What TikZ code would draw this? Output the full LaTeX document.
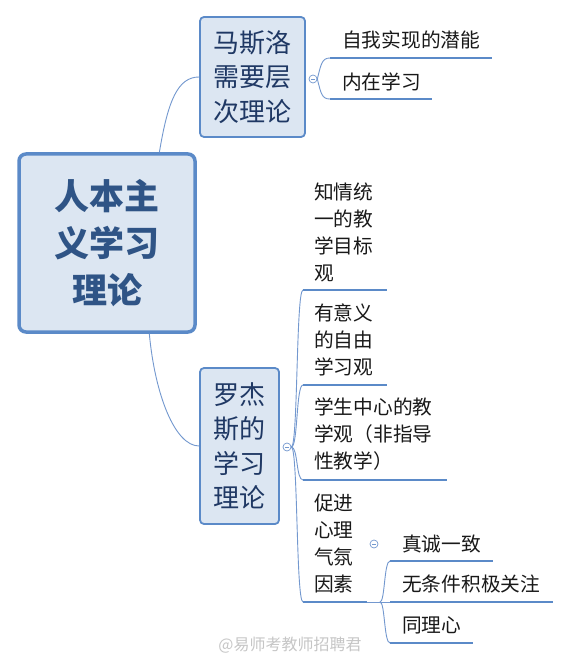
\documentclass[tikz,border=0pt]{standalone}
\usepackage{fontspec}
\newfontfamily\cjk{Noto Sans CJK SC}
\usetikzlibrary{positioning,calc}
\definecolor{mapblue}{HTML}{5B8AC8}
\definecolor{mapfill}{HTML}{DCE6F2}
\definecolor{mapline}{HTML}{7398CF}
\definecolor{maptext}{HTML}{1F3864}
\definecolor{roottext}{HTML}{2F5486}
\tikzset{
  rootbox/.style={draw=mapblue, line width=3.5pt, rounded corners=7pt, fill=mapfill, minimum width=176pt, minimum height=178pt, inner sep=0pt, align=center, text=roottext, font=\cjk\bfseries\fontsize{35}{47}\selectfont},
  topicbox/.style={draw=mapblue, line width=1.8pt, rounded corners=4pt, fill=mapfill, inner sep=0pt, align=center, text=maptext, font=\cjk\fontsize{26}{34.5}\selectfont},
  leaftext/.style={anchor=west, inner sep=0pt, align=left, text=black!90, font=\cjk\fontsize{19.7}{27}\selectfont},
  underline/.style={draw=mapblue, line width=2.6pt},
  branch/.style={draw=mapline, line width=0.9pt},
  collapse/.style={circle, draw=mapline, fill=white, line width=0.7pt, minimum size=8pt, inner sep=0pt,
    path picture={\draw[mapline, line width=0.6pt] ([xshift=-2pt]path picture bounding box.center) -- ([xshift=2pt]path picture bounding box.center);}}
}

\begin{document}
\begin{tikzpicture}[x=1pt, y=-1pt]
  \useasboundingbox[fill=white] (0,0) rectangle (571,660);
  % topics
  \node[rootbox] (root) at (107,243) {人本主\\义学习\\理论};
  \node[topicbox, minimum width=105pt, minimum height=120pt] (maslow) at (252.5,77) {马斯洛\\需要层\\次理论};
  \node[topicbox, minimum width=79pt, minimum height=156pt] (rogers) at (239.5,446) {罗杰\\斯的\\学习\\理论};
  \draw[branch] (root.60) .. controls (168,100) and (178,77) .. (maslow.west);
  \draw[branch] (root.295) .. controls (155,395) and (175,446) .. (rogers.west);

  % maslow subtopics
  \node[collapse] (mfold) at (313,79) {};
  \node[leaftext] (selfreal) at (342,40) {自我实现的潜能};
  \node[leaftext] (inner) at (342,82) {内在学习};
  \coordinate (m1a) at (330,58);  \coordinate (m1b) at (492,58);
  \coordinate (m2a) at (330,99);  \coordinate (m2b) at (432,99);
  \draw[underline] (m1a) -- (m1b);
  \draw[underline] (m2a) -- (m2b);
  \draw[branch] (mfold.east) .. controls (321,64) and (322,58) .. (m1a);
  \draw[branch] (mfold.east) .. controls (321,94) and (322,99) .. (m2a);

  % rogers subtopics
  \node[collapse] (rfold) at (287,447) {};
  \node[leaftext] (goal) at (314,232) {知情统\\一的教\\学目标\\观};
  \node[leaftext] (free) at (314,340) {有意义\\的自由\\学习观};
  \node[leaftext] (center) at (314,434) {学生中心的教\\学观（非指导\\性教学）};
  \node[leaftext] (climate) at (314,544) {促进\\心理\\气氛\\因素};
  \coordinate (r1a) at (303,290);  \coordinate (r1b) at (387,290);
  \coordinate (r2a) at (303,385);  \coordinate (r2b) at (387,385);
  \coordinate (r3a) at (303,480);  \coordinate (r3b) at (447,480);
  \coordinate (r4a) at (303,602);  \coordinate (r4b) at (367,602);
  \foreach \k in {1,...,4}
    \draw[underline] (r\k a) -- (r\k b);
  \draw[branch] (rfold.east) .. controls (298,447) and (296,290) .. (r1a);
  \draw[branch] (rfold.east) .. controls (298,447) and (296,385) .. (r2a);
  \draw[branch] (rfold.east) .. controls (298,447) and (296,480) .. (r3a);
  \draw[branch] (rfold.east) .. controls (298,447) and (296,602) .. (r4a);

  % climate factors
  \node[collapse] (cfold) at (374,544) {};
  \node[leaftext] (genuine) at (402,544) {真诚一致};
  \node[leaftext] (regard) at (402,584) {无条件积极关注};
  \node[leaftext] (empathy) at (402,625) {同理心};
  \coordinate (cj) at (380,602);
  \coordinate (c1a) at (390,561);  \coordinate (c1b) at (493,561);
  \coordinate (c2a) at (390,602);  \coordinate (c2b) at (553,602);
  \coordinate (c3a) at (390,643);  \coordinate (c3b) at (473,643);
  \foreach \k in {1,2,3}
    \draw[underline] (c\k a) -- (c\k b);
  \draw[branch] (r4b) -- (c2a);
  \draw[branch] (cj) .. controls (385,602) and (384,561) .. (c1a);
  \draw[branch] (cj) .. controls (385,602) and (384,643) .. (c3a);

  \node[font=\cjk\fontsize{16}{16}\selectfont, text=gray!45] (mark) at (290,645) {@易师考教师招聘君};
\end{tikzpicture}
\end{document}
